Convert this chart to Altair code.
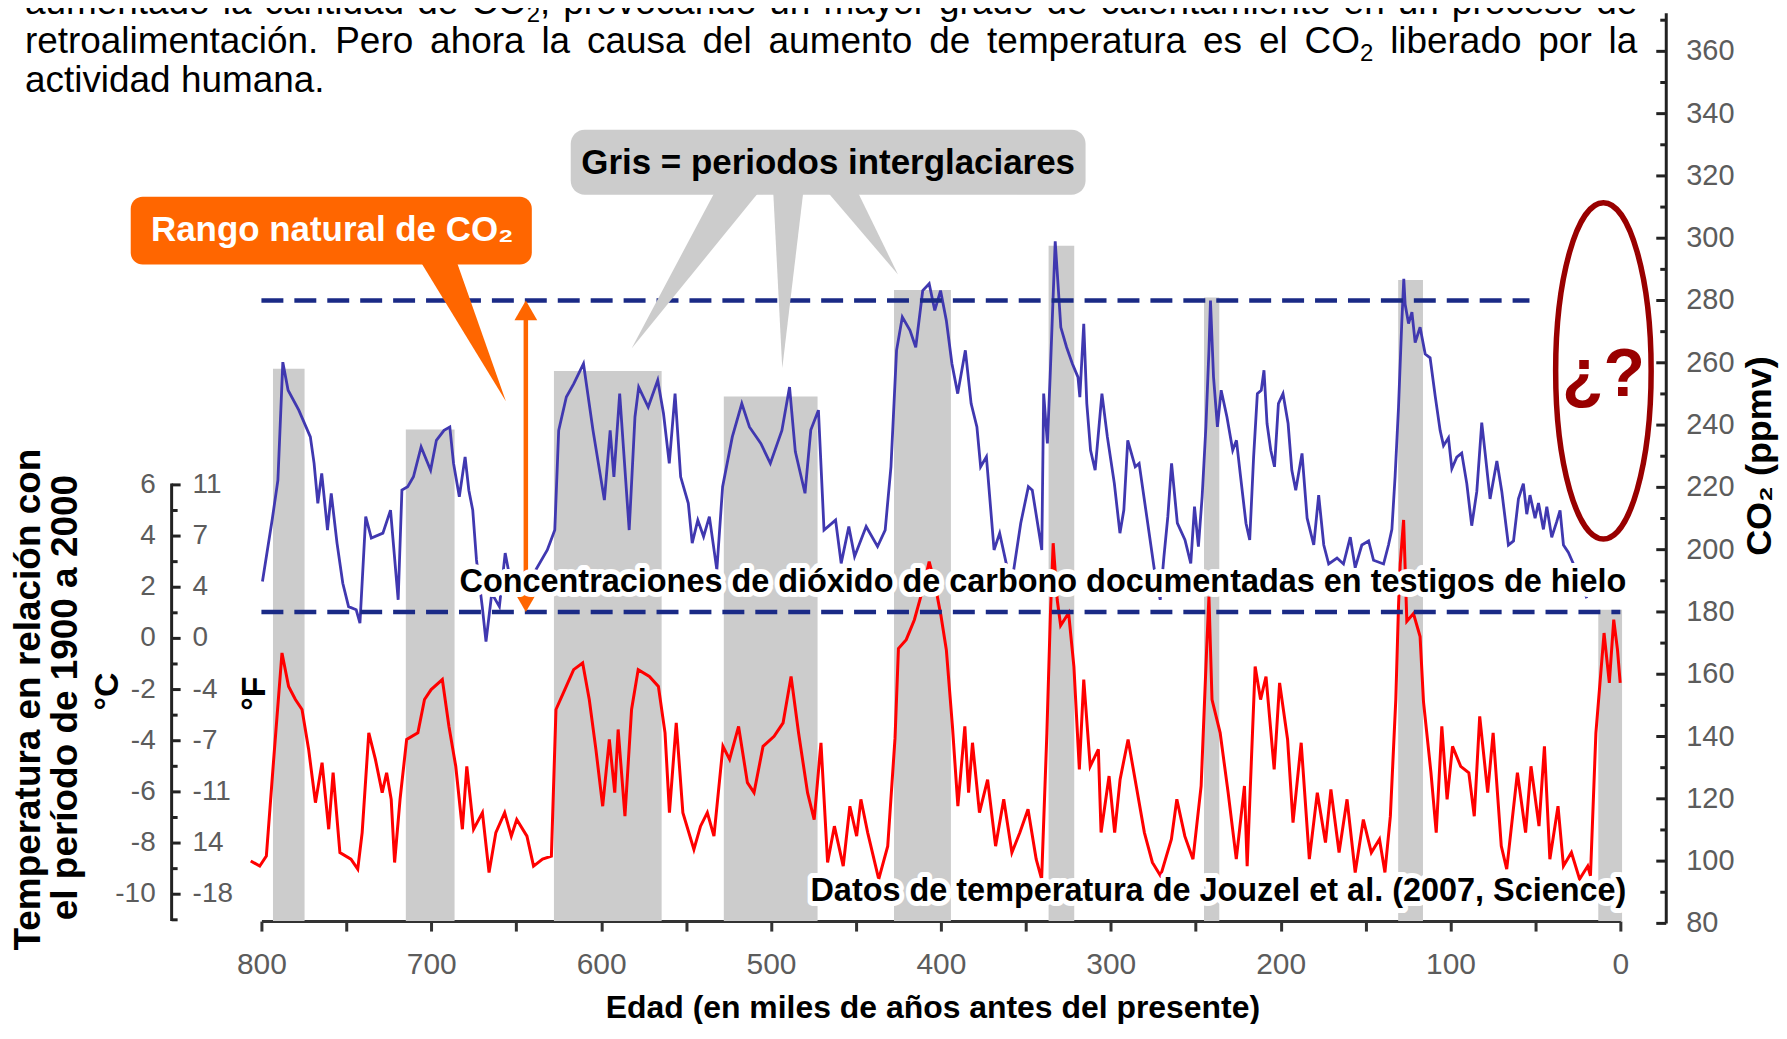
import altair as alt
import pandas as pd

# ---------------- values ----------------
# CO2 record (ka before present, ppmv)
co2_record = [
    (799.4, 189.8), (793.7, 209.5), (790.3, 222.3), (787.4, 260.2), (784.3, 251.2), (778.0, 244.8),
    (771.2, 236.2), (769.0, 227.7), (766.8, 214.9), (764.5, 224.5), (761.1, 206.3), (758.9, 218.1),
    (755.5, 202.1), (752.1, 189.2), (748.7, 181.7), (744.2, 180.7), (742.0, 176.4), (738.6, 210.6),
    (735.3, 203.7), (728.5, 205.3), (724.0, 212.7), (719.5, 183.9), (717.3, 219.1), (713.9, 220.2),
    (710.5, 223.4), (706.0, 233.0), (700.4, 225.5), (697.0, 235.1), (692.5, 238.3), (689.1, 239.4),
    (686.9, 227.7), (683.5, 217.0), (680.1, 229.8), (677.9, 219.1), (675.6, 212.7), (673.4, 196.7),
    (670.0, 181.7), (667.8, 170.5), (664.4, 186.0), (659.9, 181.7), (656.5, 198.9), (652.0, 186.0),
    (645.3, 189.2), (638.5, 193.5), (631.7, 199.9), (627.3, 206.3), (625.0, 238.3), (620.5, 249.0),
    (616.1, 253.3), (610.4, 259.7), (604.8, 238.3), (598.1, 215.9), (594.7, 238.3), (592.5, 223.4),
    (589.1, 250.1), (583.5, 206.3), (580.1, 242.6), (577.9, 252.2), (572.3, 245.8), (566.7, 254.4),
    (563.3, 243.7), (559.9, 227.7), (556.5, 250.1), (553.2, 223.4), (548.7, 214.9), (546.4, 202.1),
    (543.1, 209.5), (539.7, 204.2), (536.3, 210.6), (531.9, 193.5), (528.5, 220.2), (522.8, 236.2),
    (517.2, 246.9), (512.7, 239.4), (506.0, 234.1), (500.4, 227.7), (493.6, 238.3), (489.1, 252.2),
    (485.7, 231.5), (480.0, 218.1), (476.6, 238.4), (472.1, 244.8), (468.8, 206.3), (462.0, 209.5),
    (458.7, 195.6), (454.2, 207.4), (450.8, 197.8), (444.0, 207.4), (437.3, 201.0), (432.8, 206.3),
    (429.4, 226.6), (426.1, 264.0), (422.7, 274.7), (418.2, 270.4), (414.8, 265.0), (410.7, 283.2),
    (406.9, 285.4), (403.6, 276.8), (400.2, 283.2), (396.8, 273.6), (393.5, 259.7), (390.1, 250.1),
    (385.6, 264.0), (382.2, 246.9), (378.8, 239.4), (376.6, 226.6), (373.2, 229.8), (368.7, 199.9),
    (365.4, 205.3), (358.6, 188.2), (353.0, 208.5), (348.5, 220.2), (346.2, 219.1), (340.6, 199.9),
    (339.5, 250.1), (337.3, 234.1), (335.7, 255.4), (332.7, 299.0), (329.4, 271.4), (326.0, 265.0),
    (322.6, 259.7), (319.3, 255.4), (318.2, 249.0), (315.9, 272.5), (314.1, 246.9), (311.9, 231.9),
    (309.2, 225.5), (305.2, 250.1), (302.0, 236.2), (297.9, 221.3), (294.6, 205.3), (292.3, 212.7),
    (290.0, 235.1), (285.6, 226.6), (283.3, 227.7), (278.8, 210.6), (274.3, 193.5), (270.9, 183.9),
    (268.7, 197.8), (266.4, 210.6), (264.2, 227.7), (260.8, 208.5), (256.3, 203.1), (252.9, 195.6),
    (250.7, 213.8), (248.4, 201.0), (246.2, 217.0), (244.0, 239.4), (242.2, 264.0), (241.3, 280.0),
    (239.5, 255.4), (237.2, 239.4), (235.0, 251.2), (231.6, 242.6), (228.2, 231.9), (226.0, 235.1),
    (223.8, 224.5), (220.4, 208.5), (218.2, 203.1), (215.9, 229.8), (213.7, 250.1), (211.4, 251.2),
    (209.8, 257.6), (208.0, 240.5), (205.8, 231.9), (203.6, 226.6), (201.3, 246.9), (198.6, 250.1),
    (195.6, 240.5), (193.4, 225.5), (191.1, 219.1), (187.4, 230.9), (184.4, 210.1), (180.5, 201.5),
    (177.6, 217.5), (174.6, 201.5), (171.7, 195.4), (166.8, 197.3), (163.0, 195.4), (159.0, 204.0),
    (156.1, 194.2), (152.2, 201.5), (148.2, 202.8), (145.3, 196.6), (139.4, 195.4), (136.5, 201.5),
    (134.5, 206.5), (132.6, 223.6), (130.6, 245.7), (128.7, 272.6), (127.5, 287.0), (126.7, 278.8),
    (124.7, 272.6), (122.7, 276.3), (120.8, 266.5), (117.9, 271.4), (114.9, 262.8), (112.0, 261.6),
    (109.0, 249.3), (106.1, 238.3), (104.1, 233.4), (101.2, 235.9), (99.2, 226.0), (96.3, 229.7),
    (93.4, 231.0), (90.4, 221.2), (87.5, 207.7), (84.5, 218.7), (81.6, 240.8), (79.6, 231.0),
    (76.7, 216.3), (72.7, 228.5), (69.8, 218.7), (65.9, 201.5), (62.9, 202.8), (60.0, 216.3),
    (57.1, 221.2), (55.1, 211.4), (53.2, 217.5), (50.2, 210.1), (48.2, 215.0), (45.3, 206.5),
    (43.3, 213.8), (40.4, 204.0), (37.5, 208.9), (35.5, 212.6), (33.5, 201.5), (30.6, 199.1),
    (27.6, 195.4), (23.7, 191.7), (19.8, 184.4),
]

# Temperature record (ka before present, deg C relative to 1900-2000)
temp_record = [
    (806.3, -8.70), (801.0, -8.90), (797.1, -8.51), (793.1, -5.00), (787.9, -0.57), (784.0, -1.88),
    (780.0, -2.39), (776.1, -2.78), (772.2, -4.34), (768.2, -6.42), (764.3, -4.86), (760.4, -7.46),
    (757.8, -5.25), (753.8, -8.37), (747.3, -8.63), (743.3, -9.02), (740.7, -7.59), (736.8, -3.69),
    (732.9, -4.73), (728.9, -6.03), (726.3, -5.25), (723.6, -6.29), (721.6, -8.76), (718.4, -6.29),
    (714.5, -3.95), (707.9, -3.69), (704.0, -2.39), (700.1, -2.00), (693.5, -1.61), (689.6, -3.44),
    (685.6, -5.00), (681.7, -7.46), (679.1, -5.00), (675.1, -7.46), (669.9, -6.81), (666.0, -9.15),
    (662.0, -7.59), (656.8, -6.81), (652.9, -7.73), (649.7, -7.08), (643.7, -7.73), (639.8, -8.90),
    (634.5, -8.63), (629.3, -8.51), (626.6, -2.78), (621.4, -2.00), (616.2, -1.22), (610.9, -0.96),
    (607.0, -2.39), (603.1, -4.34), (599.1, -6.56), (595.2, -3.95), (592.0, -6.03), (590.0, -3.56),
    (586.0, -6.95), (582.1, -2.78), (578.2, -1.22), (571.6, -1.49), (566.3, -1.88), (562.4, -3.69),
    (559.8, -6.81), (555.8, -3.30), (551.9, -6.81), (545.4, -8.25), (541.5, -7.34), (537.5, -6.81),
    (533.6, -7.73), (528.3, -4.22), (524.4, -4.73), (519.1, -3.44), (513.9, -5.64), (510.0, -6.03),
    (504.7, -4.22), (498.2, -3.83), (492.9, -3.30), (488.2, -1.49), (483.8, -3.69), (478.5, -6.03),
    (474.6, -7.08), (470.6, -4.08), (466.7, -8.76), (462.7, -7.34), (457.5, -8.90), (453.6, -6.56),
    (449.6, -7.73), (447.1, -6.29), (443.1, -7.59), (436.6, -9.41), (431.3, -8.12), (427.0, -3.90),
    (425.0, -0.40), (420.4, -0.05), (415.6, 0.73), (410.3, 2.00), (406.9, 3.00), (403.6, 2.16),
    (400.0, 0.90), (396.8, -0.44), (393.2, -3.44), (390.0, -6.56), (385.9, -3.44), (383.7, -6.03),
    (381.4, -4.08), (377.3, -6.81), (372.5, -5.52), (367.8, -8.12), (363.0, -6.29), (358.2, -8.37),
    (353.5, -7.59), (348.7, -6.68), (343.9, -8.63), (340.7, -9.41), (337.6, -3.69), (335.5, 1.00),
    (333.9, 3.72), (331.5, 1.50), (329.5, 0.50), (324.8, 0.99), (321.7, -1.10), (318.5, -5.12),
    (315.9, -1.61), (312.1, -5.00), (307.3, -4.34), (305.7, -7.59), (301.0, -5.38), (297.7, -7.59),
    (294.5, -5.51), (289.8, -3.95), (285.0, -5.77), (280.2, -7.59), (275.5, -8.76), (270.7, -9.28),
    (264.3, -7.85), (261.1, -6.29), (256.4, -7.73), (251.6, -8.63), (246.8, -5.77), (243.6, -0.50),
    (242.2, 1.63), (240.4, -2.39), (235.6, -3.69), (230.9, -6.03), (226.1, -8.63), (221.3, -5.77),
    (219.7, -8.90), (215.0, -1.10), (211.8, -2.39), (208.6, -1.49), (203.8, -5.12), (200.6, -1.74),
    (195.9, -3.95), (192.7, -7.20), (187.9, -4.08), (183.1, -8.63), (178.4, -6.03), (173.6, -7.98),
    (170.4, -5.90), (165.6, -8.37), (160.9, -6.29), (156.1, -9.15), (151.3, -7.08), (146.6, -8.37),
    (141.8, -7.85), (138.6, -9.15), (135.4, -6.95), (132.2, -2.39), (130.6, 1.26), (129.6, 2.90),
    (127.6, 4.63), (125.7, 0.67), (121.8, 0.97), (117.9, 0.07), (115.9, -2.47), (111.5, -5.25),
    (108.4, -7.59), (105.1, -3.44), (102.0, -6.29), (98.8, -4.22), (94.0, -5.00), (89.2, -5.25),
    (86.0, -6.95), (82.8, -3.05), (78.1, -6.03), (74.9, -3.69), (70.1, -8.12), (66.9, -9.02),
    (60.6, -5.25), (55.8, -7.59), (52.6, -5.00), (47.9, -7.34), (44.7, -4.22), (41.5, -8.63),
    (36.7, -6.56), (33.5, -8.90), (28.8, -8.37), (24.0, -9.41), (19.2, -8.90), (17.6, -9.28),
    (14.4, -3.69), (9.6, 0.21), (6.5, -1.74), (3.9, 0.73), (1.7, -0.44), (0.1, -1.74),
]

# Interglacial (grey) periods
band_from_ka = [793.2, 715.0, 627.8, 527.8, 427.6, 336.6, 245.1, 130.8, 13.0]
band_to_ka = [774.6, 686.3, 564.4, 472.6, 394.1, 321.5, 236.1, 116.2, -1.0]
band_top_ppm = [258.1, 238.6, 257.4, 249.2, 283.4, 297.6, 281.0, 286.6, 180.7]

# Natural CO2 range (dashed lines)
range_ppm = [180, 280]
range_from_ka = [800, 800]
range_to_ka = [0, 53.5]

# Axis ticks and labels
x_tick_values = [800, 750, 700, 650, 600, 550, 500, 450, 400, 350, 300, 250, 200, 150, 100, 50, 0]
co2_major = [80, 100, 120, 140, 160, 180, 200, 220, 240, 260, 280, 300, 320, 340, 360]
co2_minor = [90, 110, 130, 150, 170, 190, 210, 230, 250, 270, 290, 310, 330, 350, 370]
temp_major_c = [6, 4, 2, 0, -2, -4, -6, -8, -10]
temp_c_text = ["6", "4", "2", "0", "-2", "-4", "-6", "-8", "-10"]
temp_f_text = ["11", "7", "4", "0", "-4", "-7", "-11", "14", "-18"]
temp_minor_c = [5, 3, 1, -1, -3, -5, -7, -9, -11]

# Paragraph above the chart (first line cut off at the top)
para_lines = [
    "aumentado la cantidad de CO₂, provocando un mayor grado de calentamiento en un proceso de",
    "retroalimentación. Pero ahora la causa del aumento de temperatura es el CO₂ liberado por la",
    "actividad humana.",
]
para_justify = [True, True, False]

# ---------------- layout ----------------
FONT = "Liberation Sans"
W, H = 1362, 910
OX, OY = 262, 12                    # page position of the plot area's corner
X_DOM = [800, 0]
CO2_DOM = [80.74, 372.27]
T_DOM = [-11.05, 24.44]
PX_PER_KA = W / 800.0
PX_PER_PPM = H / (CO2_DOM[1] - CO2_DOM[0])


def ka_at(px):
    return 800 - (px - OX) / PX_PER_KA


def ppm_at(py):
    return CO2_DOM[1] - (py - OY) / PX_PER_PPM


XS = alt.Scale(domain=X_DOM, nice=False, zero=False)
YC = alt.Scale(domain=CO2_DOM, nice=False, zero=False)
YT = alt.Scale(domain=T_DOM, nice=False, zero=False)
XAX = alt.Axis(values=x_tick_values,
               labelExpr="datum.value % 100 === 0 ? datum.label : ''",
               title=None, grid=False, domainColor="#333333", domainWidth=3,
               tickColor="#333333", tickWidth=3, tickSize=10,
               labelFont=FONT, labelFontSize=30, labelColor="#5c5c5c", labelPadding=19,
               labelFlush=False, labelOverlap=False, labelBound=False)


def X(f, **kw):
    return alt.X(f, type="quantitative", scale=XS, axis=XAX, **kw)


def Yc(f):
    return alt.Y(f, type="quantitative", scale=YC, axis=None)


def Yt(f):
    return alt.Y(f, type="quantitative", scale=YT, axis=None)


def label(text, px, py, **kw):
    return alt.Chart(pd.DataFrame({"t": [text]})).mark_text(font=FONT, **kw).encode(
        x=alt.value(px - OX), y=alt.value(py - OY), text="t:N")


layers = []

# grey interglacial bands
bands = pd.DataFrame({"a": band_from_ka, "b": band_to_ka, "top": band_top_ppm,
                      "base": [CO2_DOM[0]] * len(band_from_ka)})
layers.append(alt.Chart(bands).mark_rect(color="#cccccc").encode(
    x=X("a"), x2="b", y=Yc("top"), y2="base"))

# temperature (red) and CO2 (blue)
temp = pd.DataFrame(temp_record, columns=["ka", "c"])
layers.append(alt.Chart(temp).mark_line(color="#ff0000", strokeWidth=3).encode(
    x=X("ka"), y=Yt("c")))
co2 = pd.DataFrame(co2_record, columns=["ka", "ppm"])
layers.append(alt.Chart(co2).mark_line(color="#4038b0", strokeWidth=2.8).encode(
    x=X("ka"), y=Yc("ppm")))

# dashed natural-range lines
rng = pd.DataFrame({"a": range_from_ka, "b": range_to_ka, "ppm": range_ppm})
layers.append(alt.Chart(rng).mark_rule(color="#1a2a86", strokeWidth=4.5, strokeDash=[22, 11]).encode(
    x=X("a"), x2="b", y=Yc("ppm")))

# orange double arrow between the two dashed lines
arrow_ka = ka_at(527)
head = (520 ** 0.5) / 2 * (3 ** 0.5) / 2 / PX_PER_PPM
shaft = pd.DataFrame({"ka": [arrow_ka], "lo": [range_ppm[0] + 5], "hi": [range_ppm[1] - 6]})
layers.append(alt.Chart(shaft).mark_rule(color="#ff6600", strokeWidth=4.5).encode(
    x=X("ka"), y=Yc("lo"), y2="hi"))
heads = pd.DataFrame({"ka": [arrow_ka, arrow_ka],
                      "ppm": [range_ppm[1] - head, range_ppm[0] + head],
                      "s": ["triangle-up", "triangle-down"]})
layers.append(alt.Chart(heads).mark_point(filled=True, size=520, color="#ff6600", opacity=1).encode(
    x=X("ka"), y=Yc("ppm"), shape=alt.Shape("s:N", scale=None, legend=None)))

# grey callout "Gris = periodos interglaciares"
gbox = pd.DataFrame({"a": [ka_at(572)], "b": [ka_at(1088)], "t": [ppm_at(129)], "u": [ppm_at(194)]})
layers.append(alt.Chart(gbox).mark_rect(color="#cccccc", cornerRadius=14).encode(
    x=X("a"), x2="b", y=Yc("t"), y2="u"))
wedges = []
for i, (xa, xb, tx, ty) in enumerate([(716, 760, 633, 348), (775, 805, 784, 368), (830, 860, 900, 274)]):
    wedges.append({"id": i, "ppm": ppm_at(192), "xa": ka_at(xa), "xb": ka_at(xb)})
    wedges.append({"id": i, "ppm": ppm_at(ty), "xa": ka_at(tx), "xb": ka_at(tx)})
layers.append(alt.Chart(pd.DataFrame(wedges)).mark_area(orient="horizontal", color="#cccccc").encode(
    y=Yc("ppm"), x=X("xa", stack=None), x2="xb", detail="id:N"))

# orange callout "Rango natural de CO2"
obox = pd.DataFrame({"a": [ka_at(131)], "b": [ka_at(533)], "t": [ppm_at(196)], "u": [ppm_at(264)]})
layers.append(alt.Chart(obox).mark_rect(color="#ff6600", cornerRadius=12).encode(
    x=X("a"), x2="b", y=Yc("t"), y2="u"))
owedge = pd.DataFrame([{"ppm": ppm_at(262), "xa": ka_at(422), "xb": ka_at(458)},
                       {"ppm": ppm_at(401), "xa": ka_at(507), "xb": ka_at(507)}])
layers.append(alt.Chart(owedge).mark_area(orient="horizontal", color="#ff6600").encode(
    y=Yc("ppm"), x=X("xa", stack=None), x2="xb"))

# red ellipse with question marks
ell = pd.DataFrame({"ka": [ka_at(1607)], "ppm": [ppm_at(370.5)]})
layers.append(alt.Chart(ell).mark_point(
    shape="M -0.284 0 A 0.284 1 0 1 1 0.284 0 A 0.284 1 0 1 1 -0.284 0 Z",
    size=(2 * 168.5) ** 2, filled=False, strokeWidth=5.5, color="#990000", opacity=1).encode(
    x=X("ka"), y=Yc("ppm")))
layers.append(label("¿?", 1607, 376, fontSize=68, fontWeight="bold", color="#990000",
                    align="center", baseline="middle"))

# in-plot texts with white halo
for txt, py in [("Concentraciones de dióxido de carbono documentadas en testigos de hielo", 592),
                ("Datos de temperatura de Jouzel et al. (2007, Science)", 902)]:
    layers.append(label(txt, 1630, py, fontSize=32.5, fontWeight="bold", color="white", stroke="white",
                        strokeWidth=10, strokeJoin="round", align="right", baseline="alphabetic"))
    layers.append(label(txt, 1630, py, fontSize=32.5, fontWeight="bold", color="black",
                        align="right", baseline="alphabetic"))

layers.append(label("Gris = periodos interglaciares", 830, 162, fontSize=35, fontWeight="bold",
                    color="black", align="center", baseline="middle"))
layers.append(label("Rango natural de CO₂", 333, 229, fontSize=35, fontWeight="bold",
                    color="white", align="center", baseline="middle"))

# left temperature axis (deg C / deg F)
LAX = 172 - OX
layers.append(alt.Chart(pd.DataFrame({"a": [6.05], "b": [T_DOM[0]]})).mark_rule(
    color="#222222", strokeWidth=3).encode(x=alt.value(LAX), y=Yt("a"), y2="b"))
tmaj = pd.DataFrame({"c": temp_major_c, "ct": temp_c_text, "f": temp_f_text})
layers.append(alt.Chart(tmaj).mark_rule(color="#222222", strokeWidth=3).encode(
    x=alt.value(LAX), x2=alt.value(LAX + 9), y=Yt("c")))
layers.append(alt.Chart(pd.DataFrame({"c": temp_minor_c})).mark_rule(color="#222222", strokeWidth=3).encode(
    x=alt.value(LAX), x2=alt.value(LAX + 6), y=Yt("c")))
layers.append(alt.Chart(tmaj).mark_text(font=FONT, fontSize=28, color="#5c5c5c", align="right",
                                        baseline="middle").encode(
    x=alt.value(156 - OX), y=Yt("c"), text="ct:N"))
layers.append(alt.Chart(tmaj).mark_text(font=FONT, fontSize=28, color="#5c5c5c", align="left",
                                        baseline="middle").encode(
    x=alt.value(193 - OX), y=Yt("c"), text="f:N"))

# right CO2 axis
RAX = 1670 - OX
layers.append(alt.Chart(pd.DataFrame({"a": [80], "b": [CO2_DOM[1]]})).mark_rule(
    color="#222222", strokeWidth=3).encode(x=alt.value(RAX), y=Yc("a"), y2="b"))
cmaj = pd.DataFrame({"v": co2_major})
layers.append(alt.Chart(cmaj).mark_rule(color="#222222", strokeWidth=3).encode(
    x=alt.value(RAX - 10), x2=alt.value(RAX), y=Yc("v")))
layers.append(alt.Chart(pd.DataFrame({"v": co2_minor})).mark_rule(color="#222222", strokeWidth=3).encode(
    x=alt.value(RAX - 6), x2=alt.value(RAX), y=Yc("v")))
layers.append(alt.Chart(cmaj).mark_text(font=FONT, fontSize=29, color="#5c5c5c", align="left",
                                        baseline="middle").encode(
    x=alt.value(1690 - OX), y=Yc("v"), text="v:Q"))

# axis titles
layers.append(label("CO₂ (ppmv)", 1764, 456, fontSize=36, fontWeight="bold", color="black",
                    angle=270, align="center", baseline="middle"))
layers.append(label("Temperatura en relación con", 29, 700, fontSize=37, fontWeight="bold",
                    color="black", angle=270, align="center", baseline="middle"))
layers.append(label("el período de 1900 a 2000", 66, 698, fontSize=37, fontWeight="bold",
                    color="black", angle=270, align="center", baseline="middle"))
layers.append(label("°C", 108, 692, fontSize=34, fontWeight="bold", color="black",
                    angle=270, align="center", baseline="middle"))
layers.append(label("°F", 256, 694, fontSize=34, fontWeight="bold", color="black",
                    angle=270, align="center", baseline="middle"))
layers.append(label("Edad (en miles de años antes del presente)", 935, 1019, fontSize=32,
                    fontWeight="bold", color="black", align="center", baseline="alphabetic"))

# justified paragraph (Arial / Liberation Sans advance widths)
AW = {" ": 278, ".": 278, ",": 278, "a": 556, "b": 556, "c": 500, "d": 556, "e": 556, "f": 278,
      "g": 556, "h": 556, "i": 222, "j": 222, "k": 500, "l": 222, "m": 833, "n": 556, "o": 556,
      "p": 556, "q": 556, "r": 333, "s": 500, "t": 278, "u": 556, "v": 500, "w": 722, "x": 500,
      "y": 500, "z": 500, "á": 556, "é": 556, "í": 278, "ó": 556, "ú": 556, "ñ": 556,
      "C": 722, "O": 778, "P": 667, "2": 556}


def text_w(s, size):
    return sum(AW.get(ch, 556) for ch in s) * size / 1000.0


P_SIZE, SUB_SIZE, SUB_DROP = 37, 24, 8
P_LEFT, P_RIGHT = 25, 1641
para_baselines = [13, 52, 91]
rows = []
for text, base_y, justify in zip(para_lines, para_baselines, para_justify):
    words = []
    for w in text.split(" "):
        if "₂" in w:
            pre, post = w.split("₂")
            segs = [(pre, P_SIZE, 0), ("2", SUB_SIZE, SUB_DROP)]
            if post:
                segs.append((post, P_SIZE, 0))
        else:
            segs = [(w, P_SIZE, 0)]
        words.append(segs)
    widths = [sum(text_w(t, s) for t, s, _ in segs) for segs in words]
    gap = (P_RIGHT - P_LEFT - sum(widths)) / (len(words) - 1) if justify else text_w(" ", P_SIZE)
    x = P_LEFT
    for segs in words:
        for t, s, dy in segs:
            rows.append({"t": t, "ka": ka_at(x), "ppm": ppm_at(base_y + dy), "fs": s})
            x += text_w(t, s)
        x += gap
layers.append(alt.Chart(pd.DataFrame(rows)).mark_text(font=FONT, color="black", align="left",
                                                      baseline="alphabetic").encode(
    x=X("ka"), y=Yc("ppm"), text="t:N", size=alt.Size("fs:Q", scale=None, legend=None)))

chart = alt.layer(*layers).resolve_scale(y="independent").properties(
    width=W, height=H,
    padding={"left": OX - 8, "top": OY - 8, "right": 159, "bottom": 102},
    autosize=alt.AutoSizeParams(type="none"),
    background="white",
).configure_view(stroke=None)

chart.save("out.html", embed_options={"renderer": "svg", "actions": False})
